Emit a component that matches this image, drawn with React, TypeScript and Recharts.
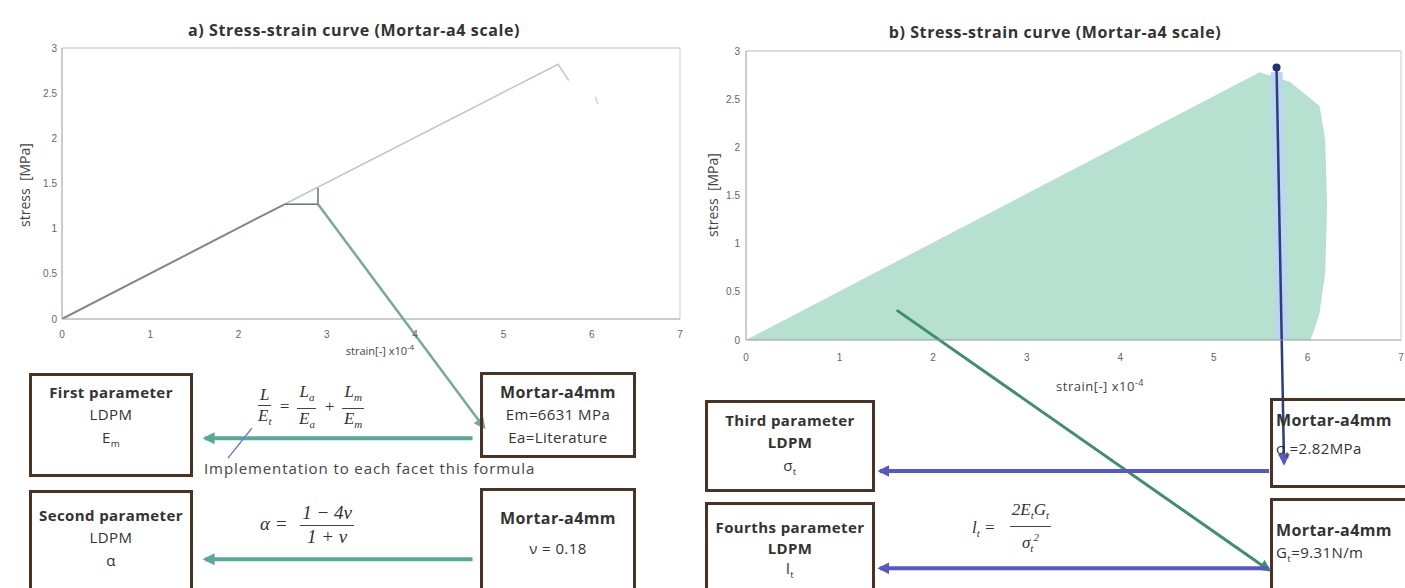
import React from 'react';
import { ComposedChart, Line, Area, XAxis, YAxis, ReferenceLine, ReferenceDot } from 'recharts';

const strainTicks = [0, 1, 2, 3, 4, 5, 6, 7];
const stressTicks = [0, 0.5, 1, 1.5, 2, 2.5, 3];

// a) elastic branch up to the slope triangle, then the rest of the curve
const aElasticStrain = [0, 2.52];
const aElasticStress = [0, 1.27];
const aUpperStrain = [2.52, 5.62, 5.74];
const aUpperStress = [1.27, 2.82, 2.64];
const aTailStrain = [6.04, 6.07];
const aTailStress = [2.46, 2.38];
const aTriangleStrain = [2.52, 2.9, 2.9];
const aTriangleStress = [1.27, 1.27, 1.45];

// b) envelope of the simulated curves
const bEnvStrain = [0, 5.49, 5.81, 6.13, 6.19, 6.21, 6.19, 6.13, 6.06, 6.03];
const bEnvStress = [0, 2.78, 2.68, 2.43, 2.08, 1.39, 0.7, 0.28, 0.07, 0];
const bPeakStrain = 5.67;
const bPeakStress = 2.83;

// arrows, in each chart's own strain / stress units (they run below the axes)
const aArrowSlopeX = [2.9, 4.78];
const aArrowSlopeY = [1.27, -1.2];
const aArrowEmX = [4.65, 1.62];
const aArrowEmY = [-1.32, -1.32];
const aArrowAlphaX = [4.65, 1.62];
const aArrowAlphaY = [-2.66, -2.66];
const aBlueTickX = [1.88, 2.15];
const aBlueTickY = [-1.54, -1.21];

const bArrowPeakX = [bPeakStrain, 5.75];
const bArrowPeakY = [bPeakStress, -1.28];
const bArrowGtX = [1.61, 5.59];
const bArrowGtY = [0.31, -2.39];
const bArrowFtX = [5.59, 1.43];
const bArrowFtY = [-1.36, -1.36];
const bArrowLtX = [5.59, 1.43];
const bArrowLtY = [-2.37, -2.37];

const zip = (xs: number[], ys: number[]) => xs.map((x, i) => ({ x, y: ys[i] }));

const tickStyle = { fontSize: 10, fill: '#666', fontFamily: 'Liberation Sans' };

const arrow = (color: string, width: number, marker?: string) => (p: any) => (
  <line
    x1={p.x1}
    y1={p.y1}
    x2={p.x2}
    y2={p.y2}
    stroke={color}
    strokeWidth={width}
    markerEnd={marker ? `url(#${marker})` : undefined}
  />
);

const Marker = ({ id, color }: { id: string; color: string }) => (
  <marker id={id} viewBox="0 0 10 10" refX="8" refY="5" markerWidth="12" markerHeight="12" markerUnits="userSpaceOnUse" orient="auto">
    <path d="M0,0 L10,5 L0,10 z" fill={color} />
  </marker>
);

type BoxLine = { text: React.ReactNode; y: number; bold?: boolean; size?: number };

function Box({ left, top, width, height, lines, align = 'center' }: { left: number; top: number; width: number; height: number; lines: BoxLine[]; align?: 'center' | 'left' }) {
  return (
    <div style={{ position: 'absolute', left, top, width, height, border: '3px solid #4a3324', boxSizing: 'border-box' }}>
      {lines.map((l, i) => (
        <div
          key={i}
          style={{
            position: 'absolute',
            left: align === 'left' ? 3 : -4,
            right: align === 'left' ? 0 : -4,
            top: l.y - top - 3 - 11,
            height: 22,
            lineHeight: '22px',
            textAlign: align,
            fontSize: l.size ?? 15,
            letterSpacing: 0.4,
            fontWeight: l.bold ? 700 : 400,
            color: '#333',
            whiteSpace: 'nowrap',
          }}
        >
          {l.text}
        </div>
      ))}
    </div>
  );
}

const Frac = ({ num, den, gap = 3 }: { num: React.ReactNode; den: React.ReactNode; gap?: number }) => (
  <span style={{ display: 'inline-flex', flexDirection: 'column', alignItems: 'center', margin: `0 ${gap}px`, verticalAlign: 'middle' }}>
    <span style={{ borderBottom: '1px solid #444', padding: '0 2px', lineHeight: '1.2em' }}>{num}</span>
    <span style={{ lineHeight: '1.2em' }}>{den}</span>
  </span>
);

const sub = (t: string) => <sub style={{ fontSize: '0.65em' }}>{t}</sub>;

const axisName = { position: 'absolute' as const, textAlign: 'center' as const, color: '#444', whiteSpace: 'nowrap' as const };

export default function App() {
  return (
    <div style={{ position: 'absolute', left: 0, top: 0, width: 1405, height: 588, background: '#fff', overflow: 'hidden', fontFamily: '"Open Sans", sans-serif' }}>
      {/* a) */}
      <div style={{ position: 'absolute', left: 0, top: 0 }}>
        <ComposedChart width={700} height={588} margin={{ top: 48, right: 20, bottom: 239, left: 32 }}>
          <defs>
            <Marker id="mTeal" color="#5aa898" />
            <Marker id="mSlope" color="#7ba79c" />
          </defs>
          <XAxis type="number" dataKey="x" domain={[0, 7]} ticks={strainTicks} height={30} tick={tickStyle} tickLine={false} tickSize={4} tickMargin={8} axisLine={{ stroke: '#999' }} allowDataOverflow />
          <YAxis type="number" dataKey="y" domain={[0, 3]} ticks={stressTicks} width={30} tick={tickStyle} tickLine={false} tickSize={2} tickMargin={3} axisLine={{ stroke: '#999' }} allowDataOverflow />
          <ReferenceLine y={3} stroke="#bbb" />
          <ReferenceLine x={7} stroke="#ccc" />
          <Line data={zip(aUpperStrain, aUpperStress)} dataKey="y" stroke="#c2c7c7" strokeWidth={1.5} dot={false} isAnimationActive={false} />
          <Line data={zip(aTailStrain, aTailStress)} dataKey="y" stroke="#d2d4d4" strokeWidth={1.5} dot={false} isAnimationActive={false} />
          <Line data={zip(aElasticStrain, aElasticStress)} dataKey="y" stroke="#7d8888" strokeWidth={2} dot={false} isAnimationActive={false} />
          <Line data={zip(aTriangleStrain, aTriangleStress)} dataKey="y" stroke="#6a7272" strokeWidth={1.5} dot={false} isAnimationActive={false} />
          <ReferenceLine segment={zip(aArrowSlopeX, aArrowSlopeY)} ifOverflow="visible" shape={arrow('#7ba79c', 2.5, 'mSlope')} />
          <ReferenceLine segment={zip(aArrowEmX, aArrowEmY)} ifOverflow="visible" shape={arrow('#5aa898', 4, 'mTeal')} />
          <ReferenceLine segment={zip(aArrowAlphaX, aArrowAlphaY)} ifOverflow="visible" shape={arrow('#5aa898', 4, 'mTeal')} />
          <ReferenceLine segment={zip(aBlueTickX, aBlueTickY)} ifOverflow="visible" shape={arrow('#6c7fd6', 1.5)} />
        </ComposedChart>
      </div>

      {/* b) */}
      <div style={{ position: 'absolute', left: 700, top: 0 }}>
        <ComposedChart width={705} height={588} margin={{ top: 51, right: 4, bottom: 218, left: 16 }}>
          <defs>
            <Marker id="mBlue" color="#5858c4" />
            <Marker id="mGreen" color="#3f8e6c" />
          </defs>
          <XAxis type="number" dataKey="x" domain={[0, 7]} ticks={strainTicks} height={30} tick={tickStyle} tickLine={false} tickSize={4} tickMargin={10} axisLine={{ stroke: '#999' }} allowDataOverflow />
          <YAxis type="number" dataKey="y" domain={[0, 3]} ticks={stressTicks} width={30} tick={tickStyle} tickLine={false} tickSize={2} tickMargin={4} axisLine={{ stroke: '#999' }} allowDataOverflow />
          <ReferenceLine y={3} stroke="#bbb" />
          <ReferenceLine x={7} stroke="#ccc" />
          <Area data={zip(bEnvStrain, bEnvStress)} dataKey="y" type="linear" stroke="none" fill="#b6e1d1" fillOpacity={1} isAnimationActive={false} />
          <ReferenceLine segment={[{ x: bPeakStrain, y: bPeakStress - 0.05 }, { x: 5.73, y: 0 }]} ifOverflow="visible" shape={arrow('#bcd5f2', 12)} />
          <ReferenceLine segment={zip(bArrowGtX, bArrowGtY)} ifOverflow="visible" shape={arrow('#3f8e6c', 3, 'mGreen')} />
          <ReferenceLine segment={zip(bArrowPeakX, bArrowPeakY)} ifOverflow="visible" shape={arrow('#2c3d78', 2.5, 'mBlue')} />
          <ReferenceLine segment={zip(bArrowFtX, bArrowFtY)} ifOverflow="visible" shape={arrow('#5858c4', 4, 'mBlue')} />
          <ReferenceLine segment={zip(bArrowLtX, bArrowLtY)} ifOverflow="visible" shape={arrow('#5858c4', 4, 'mBlue')} />
          <ReferenceDot x={bPeakStrain} y={bPeakStress} r={4} fill="#2a2f70" stroke="none" />
        </ComposedChart>
      </div>

      {/* titles and axis names */}
      <div style={{ ...axisName, left: 154, width: 400, top: 19, fontSize: 16, letterSpacing: 0.6, fontWeight: 700, color: '#333' }}>a) Stress-strain curve (Mortar-a4 scale)</div>
      <div style={{ ...axisName, left: 855, width: 400, top: 21, fontSize: 16, letterSpacing: 0.6, fontWeight: 700, color: '#333' }}>b) Stress-strain curve (Mortar-a4 scale)</div>
      <div style={{ ...axisName, left: 25 - 70, top: 185 - 9, width: 140, fontSize: 14, lineHeight: '18px', transform: 'rotate(-90deg)' }}>stress&nbsp; [MPa]</div>
      <div style={{ ...axisName, left: 713 - 70, top: 195 - 9, width: 140, fontSize: 14, lineHeight: '18px', transform: 'rotate(-90deg)' }}>stress&nbsp; [MPa]</div>
      <div style={{ ...axisName, left: 380 - 70, top: 347 - 8, width: 140, fontSize: 11, lineHeight: '16px' }}>strain[-] x10<sup style={{ fontSize: 8 }}>-4</sup></div>
      <div style={{ ...axisName, left: 1100 - 70, top: 383 - 9, width: 140, fontSize: 13, letterSpacing: 0.5, lineHeight: '18px' }}>strain[-] x10<sup style={{ fontSize: 9 }}>-4</sup></div>

      {/* a) parameter boxes */}
      <Box left={29} top={373} width={164} height={104} lines={[{ text: 'First parameter', y: 392, bold: true }, { text: 'LDPM', y: 414 }, { text: <>E{sub('m')}</>, y: 437 }]} />
      <Box left={29} top={490} width={164} height={104} lines={[{ text: 'Second parameter', y: 515, bold: true }, { text: 'LDPM', y: 537 }, { text: 'α', y: 560 }]} />
      <Box left={480} top={372} width={156} height={86} lines={[{ text: 'Mortar-a4mm', y: 392, bold: true, size: 16 }, { text: 'Em=6631 MPa', y: 414 }, { text: 'Ea=Literature', y: 437 }]} />
      <Box left={480} top={488} width={156} height={104} lines={[{ text: 'Mortar-a4mm', y: 518, bold: true, size: 16 }, { text: 'ν = 0.18', y: 548 }]} />

      <div style={{ position: 'absolute', left: 204, top: 458, fontSize: 15, letterSpacing: 0.9, lineHeight: '20px', color: '#444', whiteSpace: 'nowrap' }}>Implementation to each facet this formula</div>
      <div style={{ position: 'absolute', left: 255, top: 382, fontFamily: '"Liberation Serif", serif', fontStyle: 'italic', fontSize: 17, color: '#333', whiteSpace: 'nowrap' }}>
        <Frac num="L" den={<>E{sub('t')}</>} /> = <Frac num={<>L{sub('a')}</>} den={<>E{sub('a')}</>} /> + <Frac num={<>L{sub('m')}</>} den={<>E{sub('m')}</>} />
      </div>
      <div style={{ position: 'absolute', left: 260, top: 502, fontFamily: '"Liberation Serif", serif', fontStyle: 'italic', fontSize: 19, color: '#333', whiteSpace: 'nowrap' }}>
        α = <Frac num="1 − 4ν" den="1 + ν" gap={8} />
      </div>

      {/* b) parameter boxes */}
      <Box left={705} top={400} width={170} height={92} lines={[{ text: 'Third parameter', y: 420, bold: true }, { text: 'LDPM', y: 442, bold: true }, { text: <>σ{sub('t')}</>, y: 465 }]} />
      <Box left={705} top={502} width={170} height={92} lines={[{ text: 'Fourths parameter', y: 527, bold: true }, { text: 'LDPM', y: 548, bold: true }, { text: <>l{sub('t')}</>, y: 568 }]} />
      <Box left={1270} top={398} width={145} height={90} align="left" lines={[{ text: 'Mortar-a4mm', y: 420, bold: true, size: 16 }, { text: <>σ{sub('t')}=2.82MPa</>, y: 448 }]} />
      <Box left={1270} top={498} width={145} height={96} align="left" lines={[{ text: 'Mortar-a4mm', y: 530, bold: true, size: 16 }, { text: <>G{sub('t')}=9.31N/m</>, y: 552 }]} />

      <div style={{ position: 'absolute', left: 972, top: 500, fontFamily: '"Liberation Serif", serif', fontStyle: 'italic', fontSize: 17, color: '#333', whiteSpace: 'nowrap' }}>
        l{sub('t')} = <Frac num={<>2E{sub('t')}G{sub('t')}</>} den={<>σ{sub('t')}<sup style={{ fontSize: '0.65em' }}>2</sup></>} gap={10} />
      </div>
    </div>
  );
}
